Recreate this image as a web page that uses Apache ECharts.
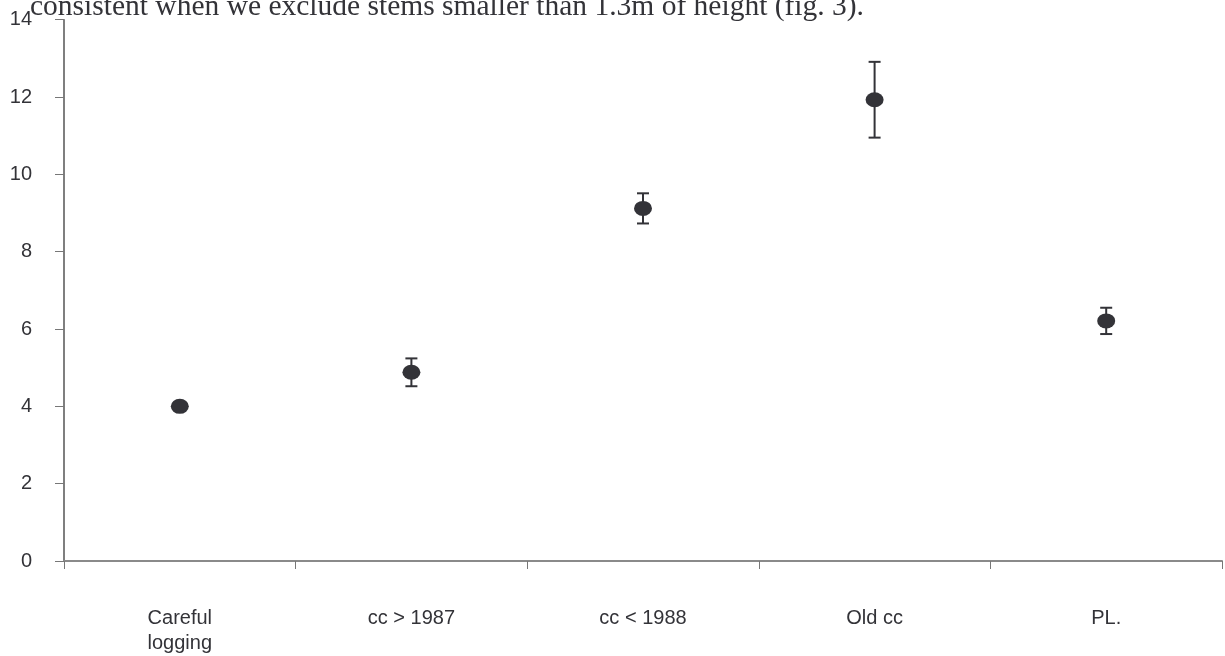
<!DOCTYPE html>
<html>
<head>
<meta charset="utf-8">
<script src="https://cdn.jsdelivr.net/npm/echarts@6/dist/echarts.min.js"></script>
<style>
html, body { margin: 0; padding: 0; background: #fff; }
#chart { width: 1225px; height: 656px; }
</style>
</head>
<body>
<div id="chart"></div>
<script>
// categories and values
var categories = ['Careful\nlogging', 'cc > 1987', 'cc < 1988', 'Old cc', 'PL.'];
var means = [4.0, 4.88, 9.12, 11.93, 6.21];
var errors = [0, 0.36, 0.39, 0.98, 0.34];
var yTicks = [0, 2, 4, 6, 8, 10, 12, 14];

var ink = '#333338';

var errData = [];
for (var i = 0; i < means.length; i++) {
    errData.push([i, means[i] - errors[i], means[i] + errors[i]]);
}

var chart = echarts.init(document.getElementById('chart'));

var option = {
    animation: false,
    backgroundColor: '#fff',
    grid: { left: 64, right: 3, top: 19.7, bottom: 94.3 },
    graphic: [{
        type: 'text',
        x: 30,
        y: 22,
        style: {
            text: 'consistent when we exclude stems smaller than 1.3m of height (fig. 3).',
            font: '29.5px "Liberation Serif", "Times New Roman", serif',
            fill: ink,
            verticalAlign: 'bottom'
        }
    }],
    xAxis: {
        type: 'category',
        data: categories,
        boundaryGap: true,
        axisLine: { lineStyle: { color: '#8a8a8a', width: 2 } },
        axisTick: { show: true, length: 8, lineStyle: { color: '#777' } },
        axisLabel: {
            margin: 45,
            color: ink,
            fontSize: 20,
            lineHeight: 25,
            fontFamily: 'Liberation Sans, Arial, sans-serif'
        },
        splitLine: { show: false }
    },
    yAxis: {
        type: 'value',
        min: yTicks[0],
        max: yTicks[yTicks.length - 1],
        interval: 2,
        axisLine: { show: true, lineStyle: { color: '#555', width: 1.5 } },
        axisTick: { show: true, length: 9, lineStyle: { color: '#777' } },
        axisLabel: {
            margin: 32,
            color: ink,
            fontSize: 20,
            fontFamily: 'Liberation Sans, Arial, sans-serif'
        },
        splitLine: { show: false }
    },
    series: [{
        type: 'custom',
        data: errData,
        z: 2,
        renderItem: function (params, api) {
            var x = api.value(0);
            var lo = api.coord([x, api.value(1)]);
            var hi = api.coord([x, api.value(2)]);
            if (hi[1] === lo[1]) return null;
            var cap = 6;
            var st = { stroke: ink, lineWidth: 2 };
            return {
                type: 'group',
                children: [
                    { type: 'line', shape: { x1: lo[0], y1: lo[1], x2: hi[0], y2: hi[1] }, style: st },
                    { type: 'line', shape: { x1: lo[0] - cap, y1: lo[1], x2: lo[0] + cap, y2: lo[1] }, style: st },
                    { type: 'line', shape: { x1: hi[0] - cap, y1: hi[1], x2: hi[0] + cap, y2: hi[1] }, style: st }
                ]
            };
        }
    }, {
        type: 'scatter',
        data: means,
        symbol: 'circle',
        symbolSize: [18, 15],
        z: 3,
        itemStyle: { color: ink, opacity: 1 }
    }]
};

chart.setOption(option);
</script>
</body>
</html>
